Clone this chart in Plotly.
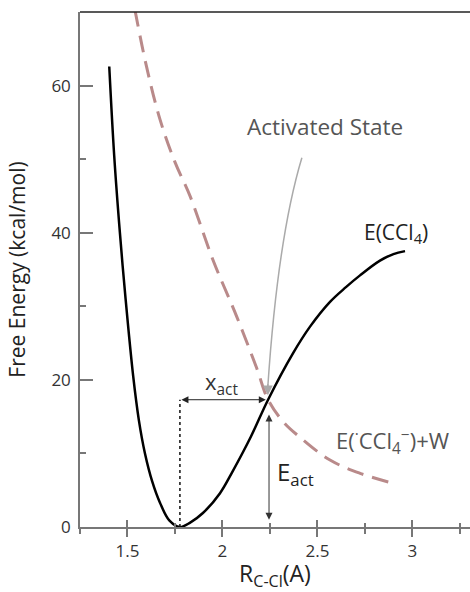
import plotly.graph_objects as go

# E(CCl4) curve (black, solid)
e_ccl4_x = [1.404, 1.43, 1.46, 1.49, 1.53, 1.56, 1.592, 1.63, 1.671, 1.72, 1.775,
            1.83, 1.897, 1.987, 2.05, 2.15, 2.24, 2.371, 2.46, 2.566, 2.65, 2.724,
            2.829, 2.9, 2.961]
e_ccl4_y = [62.6, 50.5, 40.0, 31.0, 20.5, 14.5, 10.0, 6.2, 3.3, 0.9, 0.0,
            0.6, 1.9, 4.6, 7.4, 12.3, 17.3, 23.6, 27.2, 30.6, 32.6, 34.2,
            36.2, 37.1, 37.5]

# E(.CCl4-)+W curve (dashed, rosy)
e_anion_x = [1.539, 1.6, 1.671, 1.75, 1.829, 1.95, 2.075, 2.18, 2.24, 2.32, 2.408,
             2.566, 2.724, 2.89]
e_anion_y = [70.3, 62.6, 55.4, 49.6, 45.0, 36.3, 28.6, 21.6, 17.3, 14.3, 12.2,
             9.1, 7.3, 6.0]

# activated state (crossing point) and minimum
x_min = 1.776
x_act_pt = 2.24
y_act_pt = 17.3

x_range = [1.25, 3.303]
y_range = [0, 70]
x_ticks = [1.5, 2, 2.5, 3]
x_tick_labels = ["1.5", "2", "2.5", "3"]
y_ticks = [0, 20, 40, 60]
y_tick_labels = ["0", "20", "40", "60"]

FONT = "Open Sans"
AX = "#777777"

fig = go.Figure()

fig.add_trace(go.Scatter(
    x=e_anion_x, y=e_anion_y, mode="lines",
    line=dict(color="#b98a8a", width=3, dash="17px,9px", shape="spline", smoothing=1.0),
    hoverinfo="skip", showlegend=False))

fig.add_trace(go.Scatter(
    x=e_ccl4_x, y=e_ccl4_y, mode="lines",
    line=dict(color="#000000", width=2.5, shape="spline", smoothing=1.0),
    hoverinfo="skip", showlegend=False))

# dummy trace to register the overlay axis (for crossing ticks)
fig.add_trace(go.Scatter(x=[None], y=[None], xaxis="x2", showlegend=False, hoverinfo="skip"))

shapes = [
    # top border
    dict(type="line", xref="paper", yref="paper", x0=0, x1=1, y0=1, y1=1,
         line=dict(color="#222222", width=1.5)),
    # dotted vertical at minimum
    dict(type="line", xref="x", yref="y", x0=x_min, x1=x_min, y0=0, y1=y_act_pt,
         line=dict(color="#111111", width=1.5, dash="dot")),
    # gray curved pointer
    dict(type="path", xref="x", yref="y",
         path="M 2.418,50.2 Q 2.292,39.4 2.239,19.2",
         line=dict(color="#aaaaaa", width=1.5)),
]

annotations = [
    dict(x=2.539, y=54.4, text="Activated State", showarrow=False,
         font=dict(family=FONT, size=22.5, color="#555555")),
    dict(x=2.913, y=40.0, text="E(CCl<sub>4</sub>)", showarrow=False,
         font=dict(family=FONT, size=21, color="#222222")),
    dict(x=2.895, y=11.6, text="E(<sup>·</sup>CCl<sub>4</sub><sup>−</sup>)+W", showarrow=False,
         font=dict(family=FONT, size=22, color="#555555")),
    dict(x=1.997, y=19.6, text="x<sub>act</sub>", showarrow=False,
         font=dict(family=FONT, size=22, color="#333333")),
    dict(x=2.385, y=7.4, text="E<sub>act</sub>", showarrow=False,
         font=dict(family=FONT, size=24, color="#222222")),
    # gray arrow head
    dict(x=2.239, y=17.9, ax=2.239, ay=19.6, xref="x", yref="y", axref="x", ayref="y",
         text="", showarrow=True, arrowhead=2, arrowsize=1.3, arrowwidth=1.5,
         arrowcolor="#aaaaaa"),
    # horizontal double arrow (x_act)
    dict(x=x_act_pt - 0.012, y=y_act_pt, ax=x_min, ay=y_act_pt, xref="x", yref="y",
         axref="x", ayref="y", text="", showarrow=True, arrowhead=2, startarrowhead=2,
         arrowside="end+start", arrowsize=1.4, arrowwidth=1, arrowcolor="#222222"),
    # vertical double arrow (E_act)
    dict(x=2.245, y=1.0, ax=2.245, ay=15.5, xref="x", yref="y",
         axref="x", ayref="y", text="", showarrow=True, arrowhead=2, startarrowhead=2,
         arrowside="end+start", arrowsize=1.4, arrowwidth=1, arrowcolor="#333333"),
]

fig.update_layout(
    width=470, height=592,
    margin=dict(l=80, r=0, t=12, b=65),
    paper_bgcolor="white", plot_bgcolor="white",
    font=dict(family=FONT, color="#333333"),
    shapes=shapes, annotations=annotations,
    xaxis=dict(
        range=x_range, showgrid=False, zeroline=False,
        showline=True, linecolor=AX, linewidth=1.5,
        tickmode="array", tickvals=x_ticks, ticktext=x_tick_labels,
        ticks="outside", ticklen=8, tickwidth=1.5, tickcolor=AX,
        tickfont=dict(family=FONT, size=17, color="#333333"),
        minor=dict(tickmode="linear", tick0=1.25, dtick=0.25, ticks="outside",
                   ticklen=5, tickwidth=1.5, tickcolor=AX),
        title=dict(text="R<sub>C-Cl</sub>(A)", standoff=4,
                   font=dict(family=FONT, size=23, color="#222222")),
    ),
    xaxis2=dict(
        range=x_range, overlaying="x", anchor="y", side="bottom",
        showgrid=False, zeroline=False, showline=False, showticklabels=False,
        tickmode="array", tickvals=x_ticks,
        ticks="inside", ticklen=7, tickwidth=1.5, tickcolor=AX,
        minor=dict(tickmode="linear", tick0=1.25, dtick=0.25, ticks="inside",
                   ticklen=4, tickwidth=1.5, tickcolor=AX),
    ),
    yaxis=dict(
        range=y_range, showgrid=False, zeroline=False,
        showline=True, linecolor=AX, linewidth=1.5,
        tickmode="array", tickvals=y_ticks, ticktext=y_tick_labels,
        ticks="inside", ticklen=13, tickwidth=1.5, tickcolor=AX,
        ticklabelstandoff=4,
        tickfont=dict(family=FONT, size=17, color="#333333"),
        minor=dict(tickmode="linear", tick0=0, dtick=10, ticks="inside",
                   ticklen=6, tickwidth=1.5, tickcolor=AX),
        title=dict(text="Free Energy (kcal/mol)", standoff=20,
                   font=dict(family=FONT, size=21, color="#222222")),
    ),
)

fig.write_html("out.html")
